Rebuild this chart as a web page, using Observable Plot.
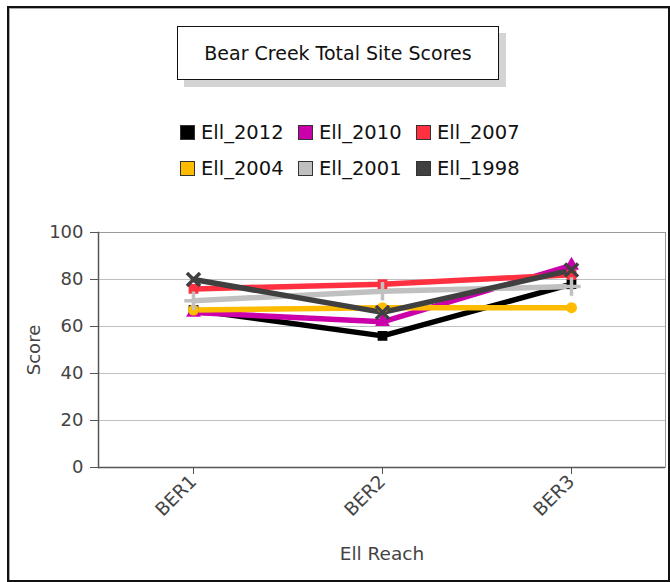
<!DOCTYPE html>
<html>
<head>
<meta charset="utf-8">
<script src="https://cdn.jsdelivr.net/npm/d3@7"></script>
<script src="https://cdn.jsdelivr.net/npm/@observablehq/plot@0.6"></script>
<style>
  html, body { margin: 0; padding: 0; background: #fff; }
  body { width: 670px; height: 582px; position: relative; overflow: hidden; font-family: "DejaVu Sans", sans-serif; }
  #frame { position: absolute; left: 7px; top: 6px; width: 659px; height: 572px; border: 2px solid #111; box-shadow: inset 1px 1px 0 #aaa; }
  #title { position: absolute; left: 177px; top: 26px; width: 320px; height: 52px; border: 1.5px solid #111; background: #fff;
           box-shadow: 7px 7px 0 #d4d4d4; font-size: 19px; color: #111; display: flex; align-items: center; justify-content: center; }
  #legend { position: absolute; left: 180px; top: 114px; }
  .row { display: flex; height: 36px; align-items: center; }
  .item { width: 118px; display: flex; align-items: center; font-size: 19.5px; color: #111; }
  .sw { width: 13px; height: 13px; border: 1px solid #333; margin-right: 6px; flex: none; }
  #chart { position: absolute; left: 8px; top: 215px; }
</style>
</head>
<body>
<div id="frame"></div>
<div id="title">Bear Creek Total Site Scores</div>
<div id="legend"></div>
<div id="chart"></div>
<script>
const reaches = ["BER1", "BER2", "BER3"];
const seriesNames = ["Ell_2012", "Ell_2010", "Ell_2007", "Ell_2004", "Ell_2001", "Ell_1998"];
const seriesColors = ["#000000", "#cc00aa", "#ff3040", "#ffbb00", "#c0c0c0", "#404040"];
const seriesSymbols = ["square", "triangle", "square", "circle", "plus", "times"];
const ell2012 = [67, 56, 78];
const ell2010 = [66, 62, 86];
const ell2007 = [76, 78, 82];
const ell2004 = [67, 68, 68];
const ell2001 = [71, 75, 77];
const ell1998 = [80, 66, 84];
const yTicks = [0, 20, 40, 60, 80, 100];

const seriesValues = [ell2012, ell2010, ell2007, ell2004, ell2001, ell1998];
const rows = [];
seriesNames.forEach((s, i) => reaches.forEach((r, j) => rows.push({series: s, reach: r, score: seriesValues[i][j]})));

// legend
const legend = document.getElementById("legend");
for (let r = 0; r < 2; r++) {
  const row = document.createElement("div");
  row.className = "row";
  for (let c = 0; c < 3; c++) {
    const i = r * 3 + c;
    const item = document.createElement("div");
    item.className = "item";
    item.innerHTML = `<span class="sw" style="background:${seriesColors[i]}"></span><span>${seriesNames[i]}</span>`;
    row.appendChild(item);
  }
  legend.appendChild(row);
}

const stroked = new Set(["plus", "times"]);
const chart = Plot.plot({
  width: 662,
  height: 365,
  marginLeft: 90,
  marginRight: 5,
  marginTop: 17,
  marginBottom: 113,
  style: {fontFamily: "DejaVu Sans, sans-serif", fontSize: "18px", color: "#444", background: "transparent", overflow: "visible"},
  x: {domain: reaches, type: "point", padding: 0.5},
  y: {domain: [0, 100]},
  color: {domain: seriesNames, range: seriesColors},
  symbol: {domain: seriesNames, range: seriesSymbols},
  marks: [
    Plot.gridY(yTicks.filter(d => d > 0 && d < 100), {stroke: "#c0c0c0", strokeOpacity: 1}),
    Plot.frame({stroke: "#9a9a9a"}),
    Plot.frame({stroke: "#555", strokeWidth: 1.5, anchor: "left"}),
    Plot.ruleY([0], {stroke: "#555", strokeWidth: 1.5}),
    Plot.axisY(yTicks, {tickSize: 8, tickPadding: 7, stroke: "#555", fill: "#444", label: "Score", labelAnchor: "center", labelArrow: "none", labelOffset: 71, fontSize: 18}),
    Plot.axisX({tickSize: 7, tickRotate: -45, tickPadding: 4, stroke: "#555", fill: "#444", label: "Ell Reach", labelAnchor: "center", labelArrow: "none", labelOffset: 92, fontSize: 18.5}),
    Plot.line(rows, {x: "reach", y: "score", z: "series", stroke: "series", strokeWidth: 5.5}),
    Plot.dot(rows.filter(d => !stroked.has(seriesSymbols[seriesNames.indexOf(d.series)])), {x: "reach", y: "score", symbol: "series", fill: "series", r: 5.5}),
    Plot.dot(rows.filter(d => stroked.has(seriesSymbols[seriesNames.indexOf(d.series)])), {x: "reach", y: "score", symbol: "series", stroke: "series", strokeWidth: 3.5, r: 6})
  ]
});
document.getElementById("chart").appendChild(chart);
</script>
</body>
</html>
